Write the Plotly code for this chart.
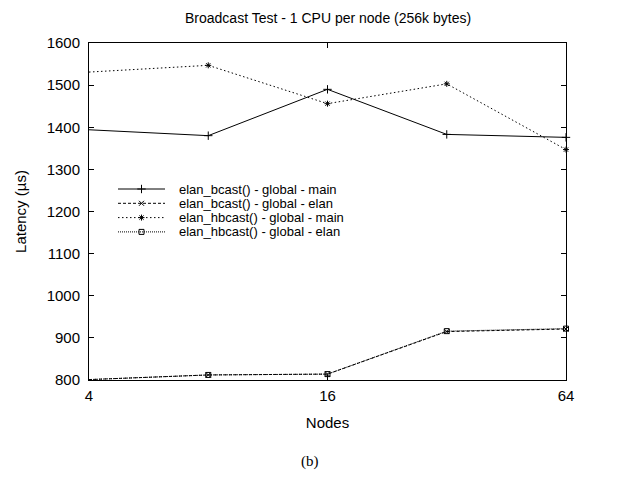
import plotly.graph_objects as go

# Broadcast latency (microseconds) versus node count, 1 CPU per node, 256k bytes
nodes = [4, 8, 16, 32, 64]
bcast_main = [1394, 1380, 1490, 1383, 1376]
bcast_elan = [801, 812, 814, 915, 921]
hbcast_main = [1531, 1547, 1456, 1503, 1347]
hbcast_elan = [801, 812, 814, 916, 922]

series_names = [
    "elan_bcast() - global - main",
    "elan_bcast() - global - elan",
    "elan_hbcast() - global - main",
    "elan_hbcast() - global - elan",
]
series_values = [bcast_main, bcast_elan, hbcast_main, hbcast_elan]
x_ticks = [4, 16, 64]
y_ticks = list(range(800, 1601, 100))

W, H = 620, 481
L, R, T, B = 89, 566, 43, 380  # plot area in pixels

FONT = "Liberation Sans, Arial, Helvetica, sans-serif"
INK = "#000000"

styles = [
    dict(dash="solid", symbol="cross-thin-open", size=6),
    dict(dash="3px,2px", symbol="x-thin-open", size=5),
    dict(dash="1.5px,2.5px", symbol="asterisk-open", size=5),
    dict(dash="1px,1px", symbol="square-open", size=5),
]

fig = go.Figure()

for name, vals, st in zip(series_names, series_values, styles):
    fig.add_trace(go.Scatter(
        x=nodes, y=vals, name=name, mode="lines+markers",
        line=dict(color=INK, width=1, dash=st["dash"]),
        marker=dict(symbol=st["symbol"], size=st["size"], color=INK,
                    line=dict(color=INK, width=1)),
        showlegend=False, cliponaxis=False,
    ))

# key box drawn in pixel space on an overlay axis pair
key_x0, key_x1, key_text_x = 118, 165, 177
key_y0, key_dy = 189, 14.3
for i, (name, st) in enumerate(zip(series_names, styles)):
    yy = key_y0 + i * key_dy
    fig.add_shape(type="line", xref="x2", yref="y2",
                  x0=key_x0, x1=key_x1, y0=yy, y1=yy,
                  line=dict(color=INK, width=1, dash=st["dash"]))
    fig.add_trace(go.Scatter(
        x=[(key_x0 + key_x1) / 2], y=[yy], xaxis="x2", yaxis="y2",
        mode="markers", showlegend=False, hoverinfo="skip",
        marker=dict(symbol=st["symbol"], size=st["size"], color=INK,
                    line=dict(color=INK, width=1)),
    ))
    fig.add_annotation(x=key_text_x, y=yy, xref="x2", yref="y2",
                       text=name, showarrow=False, xanchor="left",
                       yanchor="middle",
                       font=dict(family=FONT, size=13, color=INK))


def py(p):
    return (B - p) / (B - T)


fig.add_annotation(x=0.5, y=py(18), xref="paper", yref="paper",
                   text="Broadcast Test - 1 CPU per node (256k bytes)",
                   showarrow=False, xanchor="center", yanchor="middle",
                   font=dict(family=FONT, size=14, color=INK))
fig.add_annotation(x=(310 - L) / (R - L), y=py(461), xref="paper", yref="paper",
                   text="(b)", showarrow=False, xanchor="center",
                   yanchor="middle",
                   font=dict(family="Liberation Serif, Times New Roman, serif",
                             size=15, color=INK))

axis_common = dict(
    showgrid=False, zeroline=False, showline=True, linecolor=INK,
    linewidth=1, mirror="ticks", ticks="inside", ticklen=5,
    tickcolor=INK, tickwidth=1,
    tickfont=dict(family=FONT, size=15, color=INK),
)

fig.update_layout(
    width=W, height=H,
    margin=dict(l=L, r=W - R, t=T, b=H - B),
    paper_bgcolor="white", plot_bgcolor="white",
    showlegend=False,
    xaxis=dict(
        type="log", range=[0.60206, 1.80618], tickvals=x_ticks,
        ticktext=[str(v) for v in x_ticks], ticklabelstandoff=2,
        title=dict(text="Nodes", font=dict(family=FONT, size=15, color=INK),
                   standoff=14),
        **axis_common,
    ),
    yaxis=dict(
        range=[800, 1600], tickvals=y_ticks, ticklabelstandoff=5,
        title=dict(text="Latency (µs)",
                   font=dict(family=FONT, size=15, color=INK), standoff=16),
        **axis_common,
    ),
    xaxis2=dict(range=[L, R], overlaying="x", visible=False,
                fixedrange=True),
    yaxis2=dict(range=[B, T], overlaying="y", visible=False,
                fixedrange=True),
)

fig.write_html("out.html")
